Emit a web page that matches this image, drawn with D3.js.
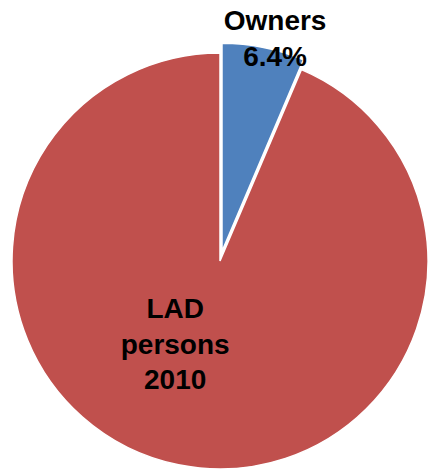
<!DOCTYPE html>
<html>
<head>
<script src="https://d3js.org/d3.v7.min.js"></script>
<style>
  body { margin: 0; background: #fff; }
  text { font-family: "Liberation Sans", Arial, sans-serif; font-weight: bold; }
</style>
</head>
<body>
<div id="chart"></div>
<script>
  // data
  const categories = ["Owners", "LAD persons 2010"];
  const values = [6.4, 93.6];
  const colors = ["#4F81BD", "#C0504D"];
  const labelLines = [["Owners", "6.4%"], ["LAD", "persons", "2010"]];

  const width = 428, height = 471;
  const cx = 220, cy = 261, radius = 208;
  const explode = 10;

  const svg = d3.select("#chart").append("svg")
    .attr("width", width)
    .attr("height", height);

  const g = svg.append("g").attr("transform", `translate(${cx},${cy})`);

  const pie = d3.pie().sort(null).value(d => d);
  const arcs = pie(values);
  const arc = d3.arc().innerRadius(0).outerRadius(radius);

  g.selectAll("path")
    .data(arcs)
    .join("path")
    .attr("d", arc)
    .attr("fill", (d, i) => colors[i])
    .attr("stroke", "#fff")
    .attr("stroke-width", 1.5)
    .attr("transform", (d, i) => {
      if (i !== 0) return null;
      const a = (d.startAngle + d.endAngle) / 2;
      return `translate(${explode * Math.sin(a)},${-explode * Math.cos(a)})`;
    });

  // label placement: polar (angle, radius) from centre
  const labelPos = [
    { a: 14.5 * Math.PI / 180, r: 220 },
    { a: 205.8 * Math.PI / 180, r: 103 }
  ];
  const lineH = 35.5;

  arcs.forEach((d, i) => {
    const p = labelPos[i];
    const x = p.r * Math.sin(p.a), y = -p.r * Math.cos(p.a);
    const lines = labelLines[i];
    const t = g.append("text")
      .attr("text-anchor", "middle")
      .attr("font-size", 28)
      .attr("fill", "#000");
    lines.forEach((ln, j) => {
      t.append("tspan")
        .attr("x", x)
        .attr("y", y + (j - (lines.length - 1) / 2) * lineH)
        .text(ln);
    });
  });
</script>
</body>
</html>
